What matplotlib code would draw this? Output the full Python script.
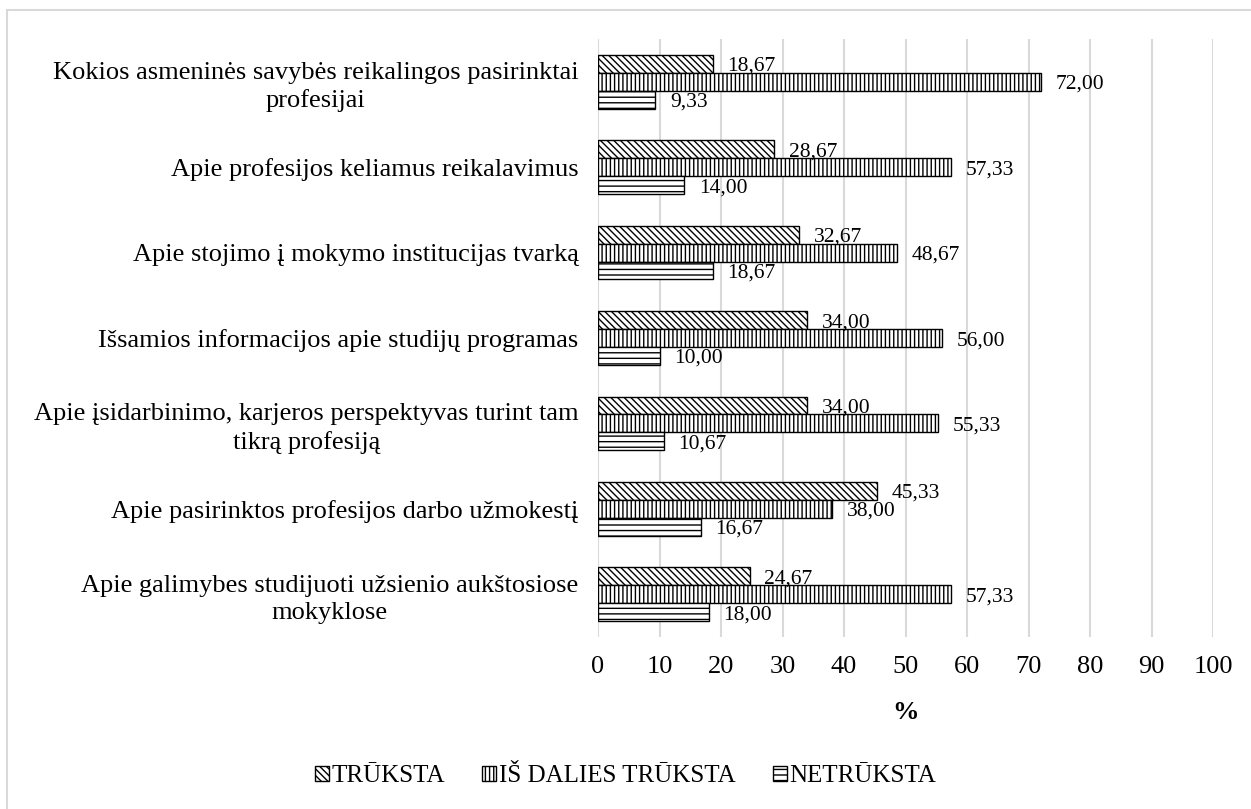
import numpy as np
import matplotlib.pyplot as plt
from matplotlib.patches import Rectangle

plt.rcParams['font.family'] = ['Liberation Serif', 'DejaVu Serif']
plt.rcParams['hatch.linewidth'] = 1.0

categories = [
    "Kokios asmeninės savybės reikalingos pasirinktai\nprofesijai",
    "Apie profesijos keliamus reikalavimus",
    "Apie stojimo į mokymo institucijas tvarką",
    "Išsamios informacijos apie studijų programas",
    "Apie įsidarbinimo, karjeros perspektyvas turint tam\ntikrą profesiją",
    "Apie pasirinktos profesijos darbo užmokestį",
    "Apie galimybes studijuoti užsienio aukštosiose\nmokyklose",
]
truksta = [18.67, 28.67, 32.67, 34.00, 34.00, 45.33, 24.67]
is_dalies = [72.00, 57.33, 48.67, 56.00, 55.33, 38.00, 57.33]
netruksta = [9.33, 14.00, 18.67, 10.00, 10.67, 16.67, 18.00]
series_names = ["TRŪKSTA", "IŠ DALIES TRŪKSTA", "NETRŪKSTA"]

fig = plt.figure(figsize=(12.51, 8.09), dpi=100)
ax = fig.add_axes([598 / 1251, 1 - 637 / 809, (1213 - 598) / 1251, (637 - 39) / 809])

# outer chart border (only top/left visible in the reference)
fig.patches.append(Rectangle((7 / 1251, -0.1), 1.2, 1 - 10 / 809 + 0.1,
                             transform=fig.transFigure, fill=False,
                             edgecolor='#d9d9d9', linewidth=1.5))

y = np.arange(len(categories))
h = 0.21
series = [truksta, is_dalies, netruksta]
hatches = ['\\\\\\\\\\', '||||', '---']
offsets = [-h, 0, h]

for vals, name, hatch, off in zip(series, series_names, hatches, offsets):
    bars = ax.barh(y + off, vals, height=h, color='white', edgecolor='black',
                   hatch=hatch, linewidth=1.0, label=name, zorder=3)
    for b, v in zip(bars, vals):
        ax.text(v + 2.4, b.get_y() + b.get_height() / 2 + 0.03,
                f"{v:.2f}".replace('.', ','), va='center', ha='left',
                fontsize=15.5, zorder=4)

ax.set_ylim(len(categories) - 0.5, -0.5)
ax.set_xlim(0, 100)
ax.set_xticks(np.arange(0, 101, 10))
ax.set_yticks(y)
ax.set_yticklabels(categories, fontsize=19, multialignment='center', linespacing=1.3)
ax.tick_params(axis='x', labelsize=19, length=0, pad=14)
ax.tick_params(axis='y', length=0, pad=14)
ax.grid(axis='x', color='#d9d9d9', linewidth=1.5, zorder=0)
for s in ax.spines.values():
    s.set_visible(False)
ax.set_xlabel('%', fontsize=19, fontweight='bold', labelpad=16)

fig.legend(loc='center', bbox_to_anchor=(0.5, 1 - 776 / 809), ncol=3,
           frameon=False, fontsize=18, handlelength=0.55, handleheight=0.55,
           handletextpad=0.1, columnspacing=1.5)

fig.savefig('out.png', dpi=100)
